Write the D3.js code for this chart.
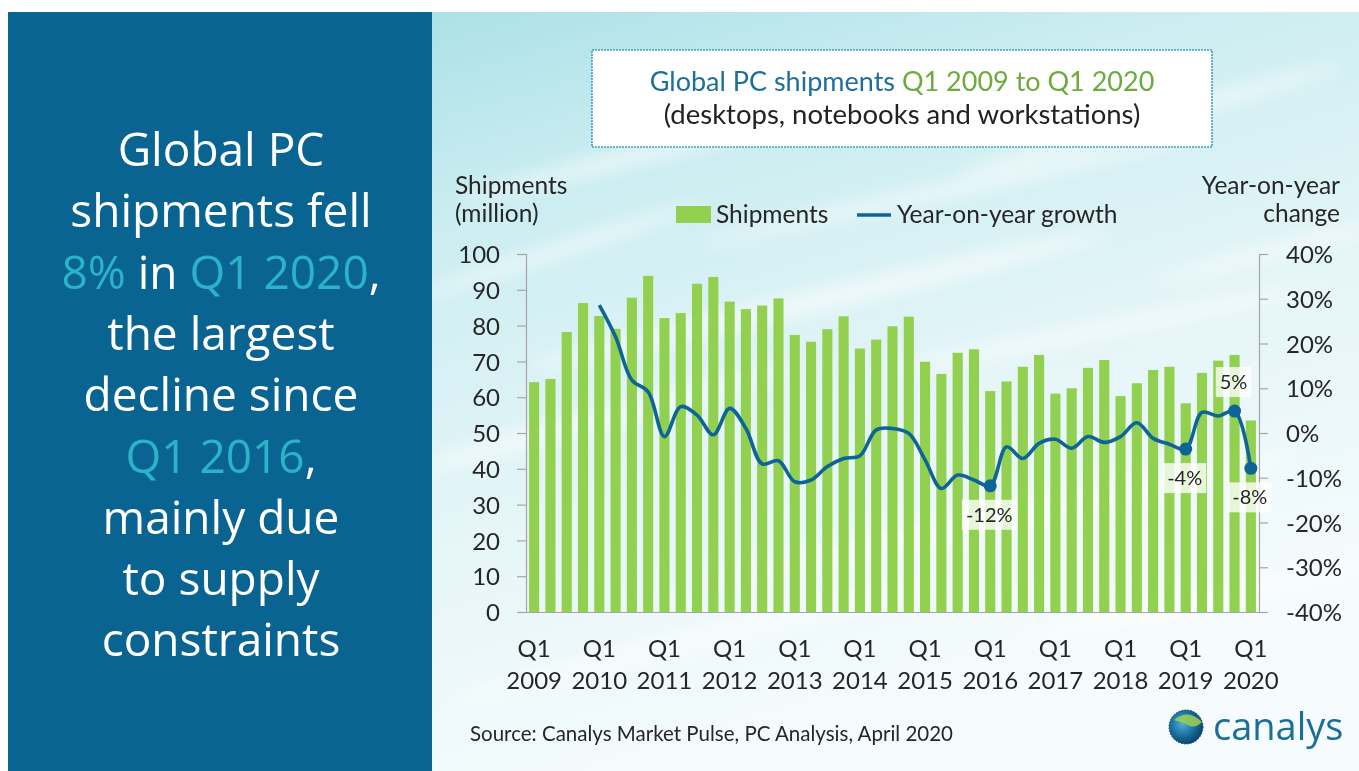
<!DOCTYPE html>
<html>
<head>
<meta charset="utf-8">
<script src="https://cdn.jsdelivr.net/npm/d3@7/dist/d3.min.js"></script>
<style>
html,body{margin:0;padding:0;background:#fff;}
svg{display:block;}
</style>
</head>
<body>
<svg id="chart" width="1359" height="771"></svg>
<script>
// ---------- DATA ----------
const quarters = [
  "Q1 2009","Q2 2009","Q3 2009","Q4 2009",
  "Q1 2010","Q2 2010","Q3 2010","Q4 2010",
  "Q1 2011","Q2 2011","Q3 2011","Q4 2011",
  "Q1 2012","Q2 2012","Q3 2012","Q4 2012",
  "Q1 2013","Q2 2013","Q3 2013","Q4 2013",
  "Q1 2014","Q2 2014","Q3 2014","Q4 2014",
  "Q1 2015","Q2 2015","Q3 2015","Q4 2015",
  "Q1 2016","Q2 2016","Q3 2016","Q4 2016",
  "Q1 2017","Q2 2017","Q3 2017","Q4 2017",
  "Q1 2018","Q2 2018","Q3 2018","Q4 2018",
  "Q1 2019","Q2 2019","Q3 2019","Q4 2019",
  "Q1 2020"
];
const shipments = [
  64.2, 65.1, 78.2, 86.3,
  82.7, 79.1, 87.8, 93.9,
  82.1, 83.5, 91.7, 93.6,
  86.7, 84.6, 85.6, 87.6,
  77.4, 75.5, 79.0, 82.6,
  73.6, 76.1, 79.8, 82.5,
  69.9, 66.5, 72.4, 73.4,
  61.7, 64.4, 68.5, 71.8,
  61.0, 62.5, 68.2, 70.4,
  60.3, 63.9, 67.6, 68.5,
  58.3, 66.8, 70.2, 71.8,
  53.5
];
const yoyGrowth = [
  null, null, null, null,
  28.6, 21.5, 11.8, 9.2,
  -0.8, 5.9, 4.0, -0.4,
  5.5, 1.0, -6.9, -6.2,
  -10.9, -10.5, -7.5, -5.7,
  -5.1, 0.7, 1.0, -0.1,
  -6.0, -12.4, -9.4, -10.5,
  -11.8, -3.1, -5.7, -2.3,
  -1.4, -3.4, -0.8, -2.1,
  -0.8, 2.3, -1.2, -2.5,
  -3.6, 4.6, 3.8, 4.9,
  -7.9
];
const labelledPoints = [
  {q:"Q1 2016", text:"-12%", pos:"below"},
  {q:"Q1 2019", text:"-4%",  pos:"below"},
  {q:"Q4 2019", text:"5%",   pos:"above"},
  {q:"Q1 2020", text:"-8%",  pos:"below"}
];
const xTickQuarters = ["Q1 2009","Q1 2010","Q1 2011","Q1 2012","Q1 2013","Q1 2014","Q1 2015","Q1 2016","Q1 2017","Q1 2018","Q1 2019","Q1 2020"];
const leftTicks = [0,10,20,30,40,50,60,70,80,90,100];
const rightTicks = [-40,-30,-20,-10,0,10,20,30,40];

// ---------- SETUP ----------
const svg = d3.select("#chart");
const W = 1359, H = 771;
const defs = svg.append("defs");

const bg = defs.append("linearGradient").attr("id","bgGrad")
  .attr("x1","0").attr("y1","0").attr("x2","0.35").attr("y2","1");
bg.append("stop").attr("offset","0").attr("stop-color","#ace1e8");
bg.append("stop").attr("offset","0.25").attr("stop-color","#cbedf1");
bg.append("stop").attr("offset","0.6").attr("stop-color","#e4f5f8");
bg.append("stop").attr("offset","1").attr("stop-color","#f6fcfd");

const blur = defs.append("filter").attr("id","blur").attr("x","-50%").attr("y","-50%").attr("width","200%").attr("height","200%");
blur.append("feGaussianBlur").attr("stdDeviation","9");

const globe = defs.append("radialGradient").attr("id","globeGrad")
  .attr("cx","0.4").attr("cy","0.4").attr("r","0.65");
globe.append("stop").attr("offset","0").attr("stop-color","#4fb0d8");
globe.append("stop").attr("offset","0.55").attr("stop-color","#1a6fa0");
globe.append("stop").attr("offset","1").attr("stop-color","#0b3f66");

svg.append("rect").attr("x",432).attr("y",12).attr("width",W-432).attr("height",H-12)
  .attr("fill","url(#bgGrad)");
const streakG = svg.append("g").attr("filter","url(#blur)").attr("opacity",0.6);
[[700,140,500,18,-14],[950,190,520,14,-12],[1150,120,400,16,-16],[820,300,600,22,-13],
 [1100,330,480,16,-11],[600,420,420,20,-15],[1000,520,620,24,-12],[700,640,520,22,-14],[1200,600,400,20,-12],
 [560,250,300,14,-18],[1280,250,260,14,-14]]
.forEach(s=>{
  streakG.append("ellipse").attr("cx",s[0]).attr("cy",s[1]).attr("rx",s[2]/2).attr("ry",s[3]/2)
    .attr("fill","#ffffff").attr("transform",`rotate(${s[4]},${s[0]},${s[1]})`);
});

// left panel
svg.append("rect").attr("x",8).attr("y",12).attr("width",424).attr("height",H-12).attr("fill","#0a6491");

const panelLines = [
  [{t:"Global PC",c:"#ffffff"}],
  [{t:"shipments fell",c:"#ffffff"}],
  [{t:"8%",c:"#2bb3c9"},{t:" in ",c:"#ffffff"},{t:"Q1 2020",c:"#2bb3c9"},{t:",",c:"#ffffff"}],
  [{t:"the largest",c:"#ffffff"}],
  [{t:"decline since",c:"#ffffff"}],
  [{t:"Q1 2016",c:"#2bb3c9"},{t:",",c:"#ffffff"}],
  [{t:"mainly due",c:"#ffffff"}],
  [{t:"to supply",c:"#ffffff"}],
  [{t:"constraints",c:"#ffffff"}]
];
const panelText = svg.append("text").attr("font-family","'Open Sans', sans-serif")
  .attr("font-size",46).attr("text-anchor","middle").style("white-space","pre");
panelLines.forEach((line,i)=>{
  line.forEach((seg,j)=>{
    const s = panelText.append("tspan").text(seg.t).attr("fill",seg.c);
    if(j===0) s.attr("x",221).attr("y",166 + i*61.3);
  });
});

// title box
svg.append("rect").attr("x",592).attr("y",50).attr("width",620).attr("height",97)
  .attr("fill","#ffffff").attr("stroke","#3c9fbf").attr("stroke-width",1.6).attr("stroke-dasharray","2,1");
const t1 = svg.append("text").attr("x",902).attr("y",91).attr("text-anchor","middle")
  .attr("font-family","Lato, sans-serif").attr("font-size",27).style("white-space","pre");
t1.append("tspan").text("Global PC shipments ").attr("fill","#1d6f9b");
t1.append("tspan").text("Q1 2009 to Q1 2020").attr("fill","#6cab3c");
svg.append("text").attr("x",902).attr("y",124).attr("text-anchor","middle")
  .attr("font-family","Lato, sans-serif").attr("font-size",27.5).attr("fill","#222")
  .text("(desktops, notebooks and workstations)");

// ---------- SCALES ----------
const x = d3.scaleBand().domain(quarters).range([526,1259]).paddingInner(0.38).paddingOuter(0.19);
const yL = d3.scaleLinear().domain([0,100]).range([612,254]);
const yR = d3.scaleLinear().domain([-40,40]).range([612,254]);
const cx = q => x(q) + x.bandwidth()/2;

const fontAxis = "Lato, sans-serif";
const axisColor = "#a6a6a6";

svg.append("g").selectAll("rect").data(quarters).join("rect")
  .attr("x",d=>x(d)).attr("width",x.bandwidth())
  .attr("y",(d,i)=>yL(shipments[i])).attr("height",(d,i)=>yL(0)-yL(shipments[i]))
  .attr("fill","#92d050");

const axL = svg.append("g").attr("transform","translate(526,0)")
  .call(d3.axisLeft(yL).tickValues(leftTicks).tickSize(9).tickPadding(17).tickFormat(d3.format("d")));
const axR = svg.append("g").attr("transform","translate(1259,0)")
  .call(d3.axisRight(yR).tickValues(rightTicks).tickSize(9).tickPadding(18).tickFormat(d=>d+"%"));
[axL,axR].forEach(a=>{
  a.select(".domain").attr("stroke",axisColor).attr("stroke-width",1.2);
  a.selectAll(".tick line").attr("stroke",axisColor).attr("stroke-width",1.2);
  a.selectAll(".tick text").attr("font-family",fontAxis).attr("font-size",24).attr("fill","#262626").attr("dy","0.36em");
});
const axB = svg.append("g").attr("transform","translate(0,612)")
  .call(d3.axisBottom(x).tickValues(xTickQuarters).tickSize(0).tickFormat(""));
axB.select(".domain").attr("stroke",axisColor).attr("stroke-width",1.2).attr("d","M517,0.5H1268");
const xl = svg.append("g").attr("font-family",fontAxis).attr("font-size",24).attr("fill","#262626").attr("text-anchor","middle");
xTickQuarters.forEach(q=>{
  const parts = q.split(" ");
  xl.append("text").attr("x",cx(q)).attr("y",657).text(parts[0]);
  xl.append("text").attr("x",cx(q)).attr("y",689).text(parts[1]);
});

const lineData = quarters.map((q,i)=>({q, v:yoyGrowth[i]})).filter(d=>d.v!==null);
svg.append("path").datum(lineData)
  .attr("d", d3.line().x(d=>cx(d.q)).y(d=>yR(d.v)).curve(d3.curveCatmullRom.alpha(0.5)))
  .attr("fill","none").attr("stroke","#0f6497").attr("stroke-width",3.6).attr("stroke-linejoin","round");

labelledPoints.forEach(p=>{
  const i = quarters.indexOf(p.q);
  const px = cx(p.q), py = yR(yoyGrowth[i]);
  svg.append("circle").attr("cx",px).attr("cy",py).attr("r",6.5).attr("fill","#0f6497");
  const ly = p.pos==="below" ? py + 29 : py - 29;
  const g = svg.append("g");
  const txt = g.append("text").attr("x",px-1).attr("y",ly).attr("dy","0.35em").attr("text-anchor","middle")
    .attr("font-family",fontAxis).attr("font-size",20).attr("fill","#262626").text(p.text);
  const bb = txt.node().getBBox();
  g.insert("rect","text").attr("x",bb.x-4).attr("y",ly-15).attr("width",bb.width+8).attr("height",30)
    .attr("fill","#ffffff").attr("opacity",0.78);
});

const at = svg.append("g").attr("font-family",fontAxis).attr("font-size",24.5).attr("fill","#262626");
at.append("text").attr("x",455).attr("y",194).text("Shipments");
at.append("text").attr("x",455).attr("y",222).text("(million)");
at.append("text").attr("x",1340).attr("y",194).attr("text-anchor","end").text("Year-on-year");
at.append("text").attr("x",1340).attr("y",222).attr("text-anchor","end").text("change");

const lg = svg.append("g").attr("font-family",fontAxis).attr("font-size",24.5).attr("fill","#262626");
lg.append("rect").attr("x",676).attr("y",206).attr("width",35).attr("height",17).attr("fill","#92d050");
lg.append("text").attr("x",716).attr("y",223).text("Shipments");
lg.append("line").attr("x1",857).attr("x2",891).attr("y1",215).attr("y2",215).attr("stroke","#0f6497").attr("stroke-width",3.6);
lg.append("text").attr("x",897).attr("y",223).text("Year-on-year growth");

svg.append("text").attr("x",470).attr("y",741).attr("font-family",fontAxis).attr("font-size",20.5).attr("fill","#262626")
  .text("Source: Canalys Market Pulse, PC Analysis, April 2020");

// logo
svg.append("circle").attr("cx",1186).attr("cy",727).attr("r",17).attr("fill","url(#globeGrad)");
svg.append("path").attr("d","M1174,720 Q1188,708 1202,722 Q1196,728 1190,726 Q1182,722 1174,720Z").attr("fill","#9fd04c").attr("opacity",0.85);
svg.append("circle").attr("cx",1186).attr("cy",727).attr("r",17).attr("fill","none").attr("stroke","#0b3f66").attr("stroke-width",1).attr("stroke-dasharray","1.5,1.5");
svg.append("text").attr("x",1213).attr("y",740).attr("font-family","'Open Sans', sans-serif").attr("font-size",38).attr("fill","#1b6e98").text("canalys");
</script>
</body>
</html>
